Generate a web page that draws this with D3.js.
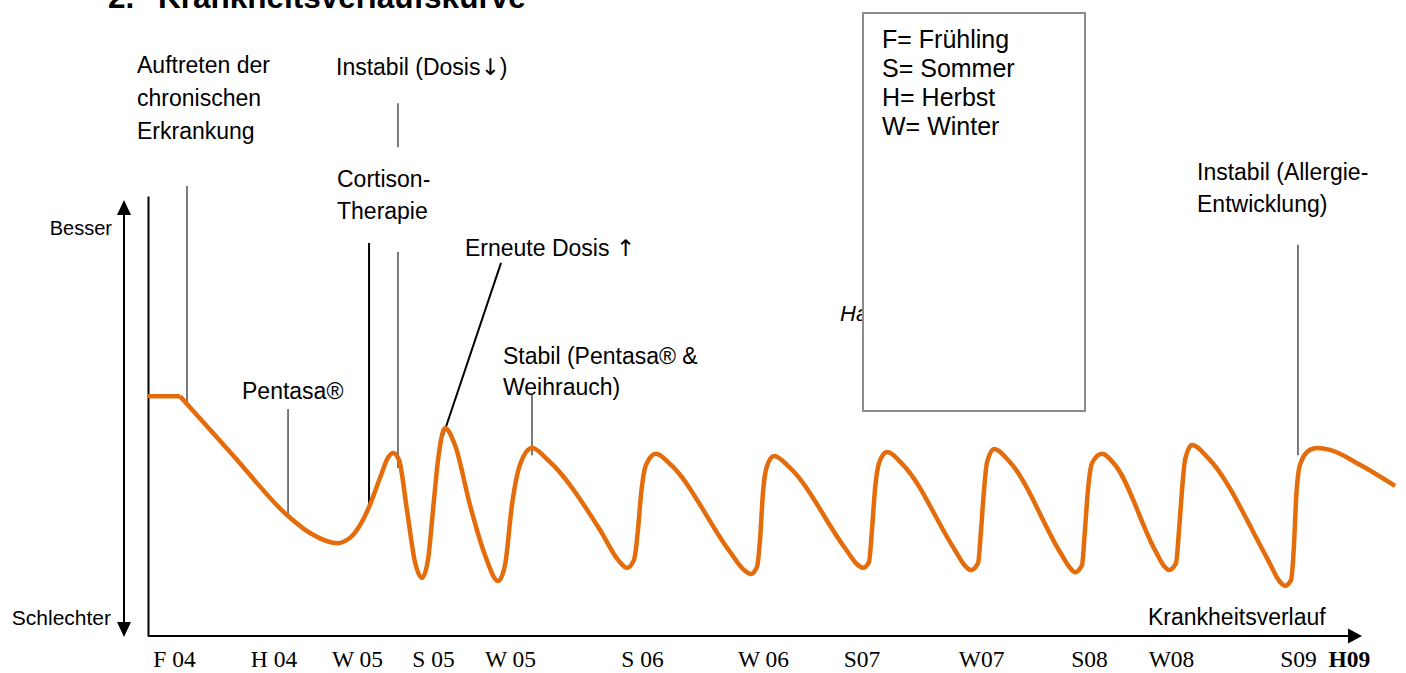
<!DOCTYPE html>
<head>
    <meta charset="utf-8">
    <title>Krankheitsverlaufskurve</title>
    <script src="https://cdn.jsdelivr.net/npm/d3@7"></script>
    <style>
        body { margin: 0; background: #fff; }
        text { font-family: "Liberation Sans", Arial, sans-serif; fill: #000; }
        .pfeil { font-family: "DejaVu Sans", sans-serif; }
    </style>
</head>
<body>
<div id="chart"></div>
<script>

    // Zeitachse: 0 = Beginn (Achse), 100 = Pfeilbeginn  /  Befinden: 0 = schlechter, 100 = besser
    const verlaufX = [
        0, 2.67, 7.08, 11.58, 13.5, 15.75, 16.83, 17.67, 18.42, 19.33, 20.0,
        20.42, 20.92, 21.58, 22.25, 22.83, 23.33, 23.75, 24.17, 24.75, 25.58, 26.83,
        28.08, 29.17, 29.75, 30.33, 31.0, 32.0,
        33.33, 37.67, 39.17, 39.92, 40.5, 40.83, 41.08, 41.5, 42.33,
        43.5, 48.5, 49.67, 50.25, 50.75, 51.0, 51.25, 51.58, 52.17,
        53.5, 58.08, 59.17, 59.58, 60.08, 60.33, 60.58, 60.92, 61.58,
        62.92, 67.25, 68.17, 68.58, 69.17, 69.42, 69.67, 69.92, 70.5,
        71.83, 76.0, 76.83, 77.25, 77.83, 78.08, 78.33, 78.67, 79.5,
        80.58, 83.92, 84.67, 85.08, 85.67, 85.92, 86.17, 86.42, 87.0,
        88.33, 93.33, 94.33, 94.75, 95.25, 95.5, 95.67, 96.0, 96.83, 97.42,
        98.5, 101.0, 103.92
    ];
    const verlaufY = [
        54.5, 54.5, 41.1, 27.5, 23.4, 21.1, 22.3, 25.2, 29.3, 35.9, 40.5,
        41.6, 40.0, 28.6, 16.8, 13.2, 17.3, 28.6, 40.0, 47.3, 43.4, 29.8,
        18.4, 12.5, 16.1, 29.8, 38.9, 42.7,
        40.0, 24.1, 17.3, 15.5, 17.3, 24.1, 32.0, 38.9, 41.4,
        39.1, 19.1, 15.0, 14.1, 15.7, 21.8, 32.7, 38.6, 40.9,
        38.2, 20.0, 16.1, 15.5, 16.8, 24.1, 33.2, 39.3, 41.8,
        38.9, 19.5, 15.7, 15.0, 16.6, 24.1, 33.2, 39.5, 42.5,
        39.5, 19.1, 15.5, 14.5, 16.1, 24.1, 33.2, 39.3, 41.4,
        38.9, 19.5, 15.9, 15.0, 16.6, 24.1, 33.2, 40.0, 43.4,
        40.5, 17.3, 12.3, 11.4, 12.7, 20.7, 30.9, 38.9, 42.3, 42.7,
        42.3, 38.9, 34.1
    ];

    // Jahreszeiten auf der x-Achse
    const saisonLabels = ["F 04", "H 04", "W 05", "S 05", "W 05", "S 06", "W 06", "S07", "W07", "S08", "W08", "S09", "H09"];
    const saisonPos = [2.17, 10.46, 17.42, 23.75, 30.17, 41.17, 51.25, 59.46, 69.42, 78.42, 85.25, 95.83, 100.08];

    const legendeText = ["F= Frühling", "S= Sommer", "H= Herbst", "W= Winter"];

    // Hinweislinien [x1, y1, x2, y2] in Achsen-Einheiten
    const duenneLinien = [
        [3.25, 102.3, 3.25, 53.0],     // Auftreten
        [20.83, 121.1, 20.83, 111.1],  // Instabil (Dosis)
        [20.83, 87.3, 20.83, 38.2],
        [11.67, 51.6, 11.67, 27.3],    // Pentasa
        [32.0, 54.8, 32.0, 41.1],      // Stabil
        [95.83, 88.9, 95.83, 41.1]     // Allergie
    ];
    const dickeLinien = [
        [18.42, 89.3, 18.42, 29.3],    // Cortison
        [29.42, 84.8, 24.58, 45.5]     // Erneute Dosis
    ];

    const width = 1406;
    const height = 673;

    const svg = d3.select("#chart")
        .append("svg")
        .attr("width", width)
        .attr("height", height);

    const x = d3.scaleLinear().domain([0, 100]).range([148, 1348]);
    const y = d3.scaleLinear().domain([0, 100]).range([636, 196]);

    // Titel (oben abgeschnitten wie im Original)
    svg.append("text").attr("x", 108).attr("y", 8)
        .attr("font-size", 31.5).attr("font-weight", "bold").text("2.");
    svg.append("text").attr("x", 158).attr("y", 8)
        .attr("font-size", 31.5).attr("font-weight", "bold").text("Krankheitsverlaufskurve");

    // Beschriftungen (Pfeile als eigenes tspan)
    function label(lines, x0, y0, size, step) {
        lines.forEach((t, i) => {
            const txt = svg.append("text")
                .attr("x", x0)
                .attr("y", y0 + i * step)
                .attr("font-size", size);
            t.split(/([↑↓])/).filter(s => s.length).forEach(s => {
                const sp = txt.append("tspan").text(s);
                if (s === "↑" || s === "↓") sp.attr("class", "pfeil");
            });
        });
    }
    label(["Auftreten der", "chronischen", "Erkrankung"], 137, 73, 23, 33);
    label(["Instabil (Dosis↓)"], 336, 75, 23, 33);
    label(["Cortison-", "Therapie"], 337, 187, 23, 32);
    label(["Erneute Dosis ↑"], 465, 256, 23, 33);
    label(["Pentasa®"], 242, 399, 23, 33);
    label(["Stabil (Pentasa® &", "Weihrauch)"], 503, 364, 23, 31);
    label(["Instabil (Allergie-", "Entwicklung)"], 1197, 180, 23, 32);
    label(["Krankheitsverlauf"], 1148, 625, 23, 0);

    svg.append("text").attr("x", 112).attr("y", 235)
        .attr("font-size", 20).attr("text-anchor", "end").text("Besser");
    svg.append("text").attr("x", 111).attr("y", 625)
        .attr("font-size", 21).attr("text-anchor", "end").text("Schlechter");

    // Hinweislinien
    svg.selectAll(".duenn")
        .data(duenneLinien)
        .enter()
        .append("line")
        .attr("class", "duenn")
        .attr("x1", d => x(d[0])).attr("y1", d => y(d[1]))
        .attr("x2", d => x(d[2])).attr("y2", d => y(d[3]))
        .attr("stroke", "#222")
        .attr("stroke-width", 1.2);

    svg.selectAll(".dick")
        .data(dickeLinien)
        .enter()
        .append("line")
        .attr("class", "dick")
        .attr("x1", d => x(d[0])).attr("y1", d => y(d[1]))
        .attr("x2", d => x(d[2])).attr("y2", d => y(d[3]))
        .attr("stroke", "#000")
        .attr("stroke-width", 2);

    // y-Achse (Linie ohne Ticks)
    svg.append("g")
        .attr("transform", `translate(${x(0)},0)`)
        .call(d3.axisLeft(y).tickValues([]).tickSizeOuter(0))
        .select(".domain")
        .attr("stroke", "#000")
        .attr("stroke-width", 2);

    // Doppelpfeil Besser / Schlechter
    const ax = 124;
    svg.append("line")
        .attr("x1", ax).attr("x2", ax)
        .attr("y1", 212).attr("y2", 625)
        .attr("stroke", "#000").attr("stroke-width", 2);
    svg.append("path")
        .attr("d", `M${ax},200 L${ax - 7},215 L${ax + 7},215 Z`)
        .attr("fill", "#000");
    svg.append("path")
        .attr("d", `M${ax},637 L${ax - 7},622 L${ax + 7},622 Z`)
        .attr("fill", "#000");

    // x-Achse mit Pfeil
    svg.append("line")
        .attr("x1", x(0)).attr("x2", 1350)
        .attr("y1", y(0)).attr("y2", y(0))
        .attr("stroke", "#000").attr("stroke-width", 2);
    svg.append("path")
        .attr("d", `M1362,${y(0)} L1348,${y(0) - 7.5} L1348,${y(0) + 7.5} Z`)
        .attr("fill", "#000");

    const xAxis = d3.axisBottom(x)
        .tickValues(saisonPos)
        .tickFormat((d, i) => saisonLabels[i])
        .tickSize(0)
        .tickPadding(14);

    const gx = svg.append("g")
        .attr("transform", `translate(0,${y(0)})`)
        .call(xAxis);
    gx.select(".domain").remove();
    gx.selectAll("text")
        .style("font-family", "'Liberation Serif', 'Times New Roman', serif")
        .attr("font-size", 23.5)
        .attr("fill", "#000");
    gx.selectAll(".tick:last-of-type text").attr("font-weight", "bold");

    // Verlaufskurve
    const punkte = verlaufX.map((v, i) => [v, verlaufY[i]]);

    const linie = d3.line()
        .x(d => x(d[0]))
        .y(d => y(d[1]));

    svg.append("path")
        .datum(punkte.slice(0, 2))
        .attr("d", linie.curve(d3.curveLinear))
        .attr("fill", "none")
        .attr("stroke", "#E46C0A")
        .attr("stroke-width", 4.5);

    svg.append("path")
        .datum(punkte.slice(1))
        .attr("d", linie.curve(d3.curveMonotoneX))
        .attr("fill", "none")
        .attr("stroke", "#E46C0A")
        .attr("stroke-width", 4.5)
        .attr("stroke-linejoin", "round");

    // Verdeckter kursiver Text hinter der Legende
    svg.append("text").attr("x", 840).attr("y", 321)
        .attr("font-size", 22).attr("font-style", "italic").text("Ha");

    // Legende
    svg.append("rect")
        .attr("x", 863).attr("y", 13)
        .attr("width", 222).attr("height", 398)
        .attr("fill", "#fff")
        .attr("stroke", "#8c8c8c")
        .attr("stroke-width", 2);

    svg.selectAll(".legende")
        .data(legendeText)
        .enter()
        .append("text")
        .attr("class", "legende")
        .attr("x", 882)
        .attr("y", (d, i) => 48 + i * 29)
        .attr("font-size", 25)
        .text(d => d);

</script>
</body>
